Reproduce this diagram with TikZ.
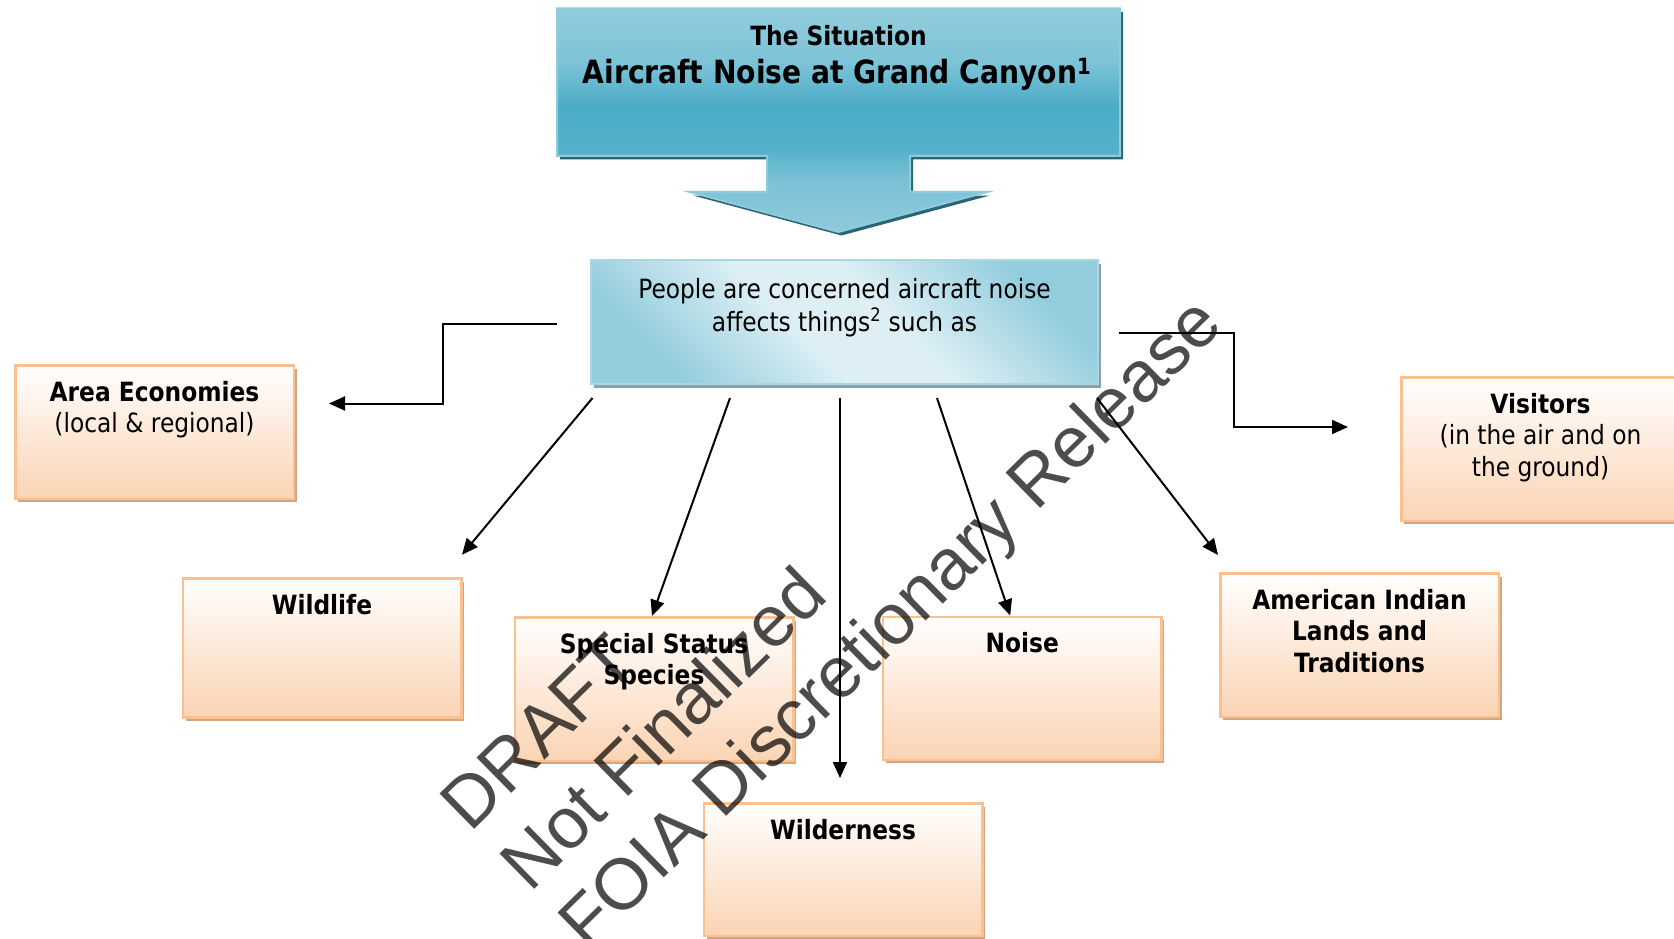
\documentclass[tikz,border=0pt]{standalone}
\usepackage{fontspec}
\setmainfont{DejaVu Sans}[FakeStretch=0.88]
\newfontfamily\wmfont{Liberation Sans}
\usetikzlibrary{arrows.meta,calc}

% palette
\definecolor{calloutTop}{HTML}{93CDDD}
\definecolor{calloutUp}{HTML}{7DC3D7}
\definecolor{calloutDeep}{HTML}{4BACC6}
\definecolor{calloutLow}{HTML}{55B0C9}
\definecolor{calloutStem}{HTML}{7CC2D6}
\definecolor{calloutTip}{HTML}{8ECADB}
\definecolor{calloutEdge}{HTML}{8FCBDC}
\definecolor{calloutShadow}{HTML}{2A6475}
\definecolor{paneBlue}{HTML}{93CDDD}
\definecolor{paneLight}{HTML}{DDEFF5}
\definecolor{paneEdge}{HTML}{A9D6E3}
\definecolor{paneShadow}{HTML}{86A3AE}
\definecolor{peachFill}{HTML}{FBD4B4}
\definecolor{peachEdge}{HTML}{FAC090}
\definecolor{peachShadow}{HTML}{D2A681}

% shadings: callout darkens towards its middle, pane is blue on the off-diagonal corners
\pgfdeclareverticalshading{calloutshade}{100bp}{%
  color(0bp)=(calloutTip); color(25bp)=(calloutTip); color(36bp)=(calloutStem);
  color(44bp)=(calloutLow); color(53bp)=(calloutDeep); color(63bp)=(calloutUp);
  color(75bp)=(calloutTop); color(100bp)=(calloutTop)}
\pgfdeclarehorizontalshading{paneshade}{100bp}{%
  color(0bp)=(paneBlue); color(25bp)=(paneBlue); color(44bp)=(paneLight);
  color(56bp)=(paneLight); color(75bp)=(paneBlue); color(100bp)=(paneBlue)}

\tikzset{
  shadowed/.style={preaction={fill=#1, draw=none,
      transform canvas={xshift=3pt,yshift=-3.5pt}}},
  peachbox/.style={rectangle, inner sep=0pt, draw=peachEdge, line width=2.5pt,
      top color=white, bottom color=peachFill, shadowed=peachShadow,
      minimum width=278.5pt},
  pane/.style={rectangle, inner sep=0pt, draw=paneEdge, line width=2pt,
      shade, shading=paneshade, shading angle=45, shadowed=paneShadow,
      minimum width=507pt, minimum height=124pt},
  boxlabel/.style={anchor=base, align=center, inner sep=0pt,
      font=\fontsize{26.5}{31.5}\selectfont},
  titletext/.style={anchor=base, inner sep=0pt},
  conn/.style={draw=black, line width=2pt, -{Triangle[length=16pt,width=14pt]}},
  wm/.style={anchor=base west, rotate=44.5, inner sep=0pt, text=black,
      text opacity=0.7, font=\wmfont\fontsize{72}{80}\selectfont},
}

\begin{document}
\begin{tikzpicture}[x=1pt, y=-1pt]
\useasboundingbox (0,0) rectangle (1674,939);
\clip (0,0) rectangle (1674,939);

% headline callout with its down arrow
\path[shade, shading=calloutshade, draw=calloutEdge, line width=2pt,
      shadowed=calloutShadow]
  (557,8.5) -- (1120,8.5) -- (1120,156) -- (910,156) -- (910,192)
  -- (987,192) -- (838.5,232) -- (690,192) -- (767,192) -- (767,156)
  -- (557,156) -- cycle;
\node[titletext, font=\bfseries\fontsize{26.5}{30}\selectfont] (sit) at (838.5,45.5) {The Situation};
\node[titletext, font=\bfseries\fontsize{32}{36}\selectfont] (title) at (837,84)
  {Aircraft Noise at Grand Canyon\textsuperscript{1}};

% central statement (base anchor sits on the last line)
\node[pane] (concern) at (844.5,322) {};
\node[boxlabel, font=\fontsize{26.5}{33}\selectfont] (concern-t) at (844.5,331)
  {People are concerned aircraft noise\\affects things\textsuperscript{2} such as};

% affected resources
\node[peachbox, minimum height=133.5pt] (area)       at (154.5,432)  {};
\node[peachbox, minimum height=143.5pt] (visitors)   at (1540.5,449) {};
\node[peachbox, minimum height=139pt]   (wildlife)   at (322,648)    {};
\node[peachbox, minimum height=143.5pt] (special)    at (654,689)    {};
\node[peachbox, minimum height=143pt]   (noise)      at (1022.2,688.3) {};
\node[peachbox, minimum height=143.5pt] (american)   at (1359.5,645) {};
\node[peachbox, minimum height=132.5pt] (wilderness) at (843,869.5)  {};

\node[boxlabel] (area-t) at ($(area.north)+(0,68.5)$)
  {\textbf{Area Economies}\\(local \& regional)};
\node[boxlabel] (visitors-t) at ($(visitors.north)+(0,100)$)
  {\textbf{Visitors}\\(in the air and on\\the ground)};
\node[boxlabel] (wildlife-t) at ($(wildlife.north)+(0,37)$) {\textbf{Wildlife}};
\node[boxlabel] (special-t) at ($(special.north)+(0,68.5)$)
  {\textbf{Special Status}\\\textbf{Species}};
\node[boxlabel] (noise-t) at ($(noise.north)+(0,37)$) {\textbf{Noise}};
\node[boxlabel] (american-t) at ($(american.north)+(0,100)$)
  {\textbf{American Indian}\\\textbf{Lands and}\\\textbf{Traditions}};
\node[boxlabel] (wilderness-t) at ($(wilderness.north)+(0,37)$) {\textbf{Wilderness}};

% connector end points
\coordinate (areaS) at ($(concern.west)+(-33,1.5)$);
\coordinate (areaE) at ($(area.east)+(34,-28.5)$);
\coordinate (visS)  at ($(concern.east)+(20,10.7)$);
\coordinate (visE)  at ($(visitors.west)+(-52,-22)$);
\coordinate (wildS) at ($(concern.south west)+(2.5,13)$);
\coordinate (wildE) at ($(wildlife.north east)+(-0.5,-22.5)$);
\coordinate (specS) at ($(concern.south west)+(140,13)$);
\coordinate (specE) at ($(special.north)+(-2,0)$);
\coordinate (wildnS) at ($(concern.south)+(-4.5,13)$);
\coordinate (wildnE) at ($(wilderness.north)+(-3,-24)$);
\coordinate (noiseS) at ($(concern.south west)+(347,13)$);
\coordinate (noiseE) at ($(noise.north)+(-12,0)$);
\coordinate (amerS) at ($(concern.south east)+(-2,13)$);
\coordinate (amerE) at ($(american.north west)+(-1,-17)$);

% connectors
\draw[conn] (areaS) -| ($(areaS)!0.5!(areaE)$) |- (areaE);
\draw[conn] (visS) -| ($(visS)!0.5!(visE)$) |- (visE);
\draw[conn] (wildS) -- (wildE);
\draw[conn] (specS) -- (specE);
\draw[conn] (wildnS) -- (wildnE);
\draw[conn] (noiseS) -- (noiseE);
\draw[conn] (amerS) -- (amerE);

% release stamp
\node[wm] (stamp1) at (470,834) {DRAFT};
\node[wm] (stamp2) at (530.2,893.2) {Not Finalized};
\node[wm] (stamp3) at (588.4,952.4) {FOIA Discretionary Release};
\end{tikzpicture}
\end{document}
